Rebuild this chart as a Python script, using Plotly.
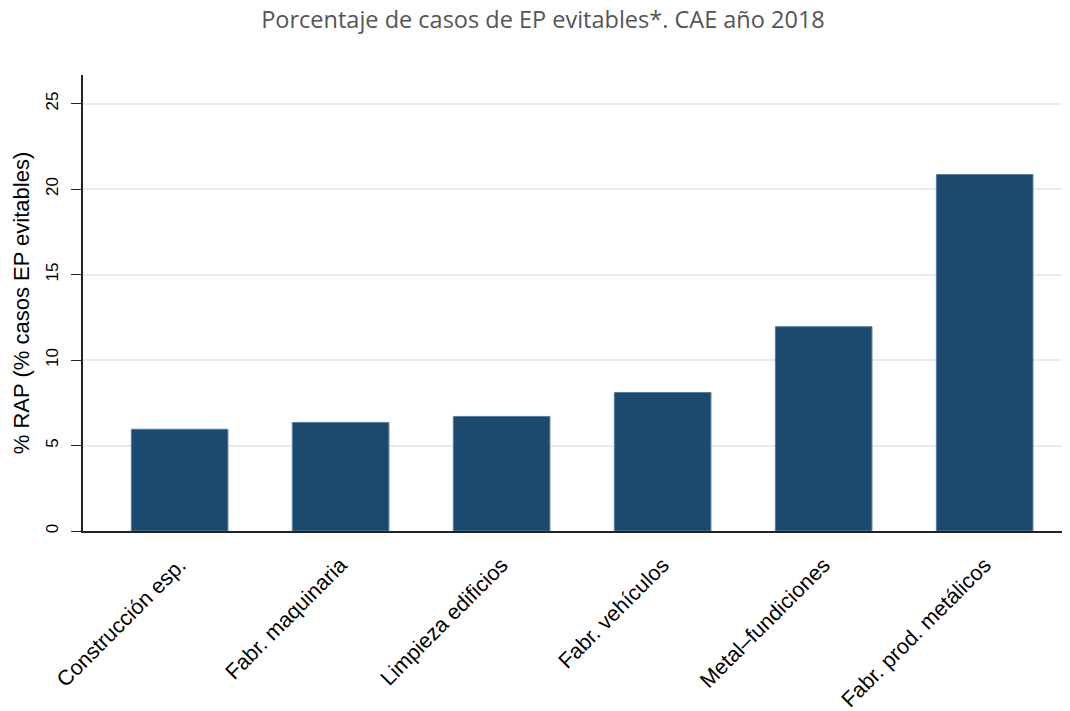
import plotly.graph_objects as go

categories = ["Construcción esp.", "Fabr. maquinaria", "Limpieza edificios",
              "Fabr. vehículos", "Metal–fundiciones", "Fabr. prod. metálicos"]
values = [5.95, 6.35, 6.7, 8.1, 11.95, 20.85]
y_ticks = [0, 5, 10, 15, 20, 25]

fig = go.Figure(go.Bar(
    x=categories, y=values, width=0.6,
    marker=dict(color="#1a4a70", line=dict(color="#5a7f9c", width=1)),
))

fig.update_layout(
    width=1070, height=711,
    paper_bgcolor="white", plot_bgcolor="white",
    margin=dict(l=75, r=8, t=67, b=188, autoexpand=False),
    title=dict(text="Porcentaje de casos de EP evitables*. CAE año 2018",
               x=0.5, xanchor="center", y=0.983, yanchor="middle",
               font=dict(family="Open Sans", size=23.5, color="#555555")),
    showlegend=False,
    font=dict(family="Liberation Sans, Arial", color="black"),
)
fig.update_xaxes(
    range=[-0.6, 5.53], tickangle=-45, showgrid=False,
    showline=True, linecolor="#222222", linewidth=2,
    tickfont=dict(size=21.5, family="Liberation Sans, Arial"),
    ticks="outside", ticklen=11, tickcolor="rgba(0,0,0,0)",
)
fig.update_yaxes(
    range=[0, 26.67], tickvals=y_ticks, ticktext=[str(t) for t in y_ticks],
    tickangle=-90, showgrid=True, gridcolor="#e3efef", gridwidth=2,
    showline=True, linecolor="#222222", linewidth=1.5,
    ticks="outside", ticklen=10, tickcolor="#222222",
    tickfont=dict(size=17, family="Liberation Sans, Arial"),
    ticklabelstandoff=6,
    title=dict(text="% RAP (% casos EP evitables)", font=dict(size=22), standoff=8),
    zeroline=False,
)

fig.write_html("out.html")
